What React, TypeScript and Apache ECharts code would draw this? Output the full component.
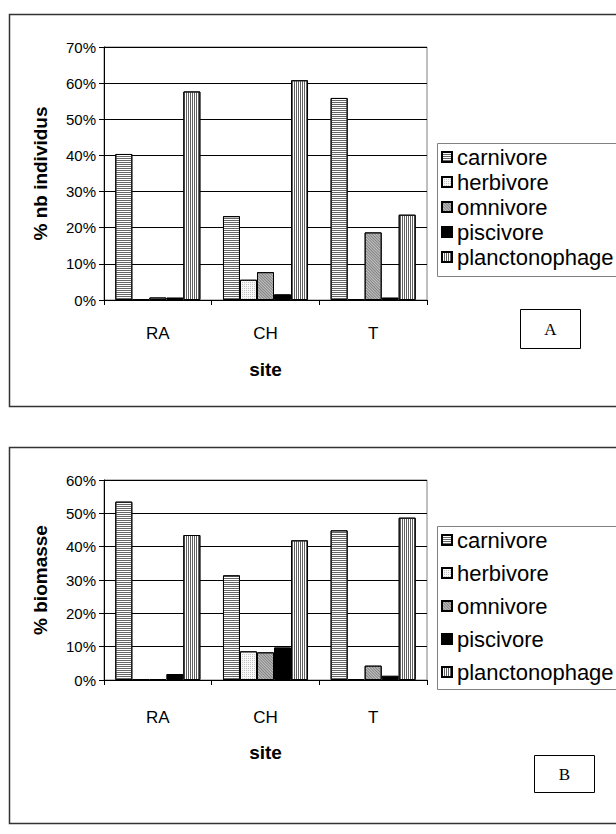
import React, { useEffect, useRef } from "react";
import * as echarts from "echarts";

const sites = ["RA", "CH", "T"];
const groups = ["carnivore", "herbivore", "omnivore", "piscivore", "planctonophage"];

// Panel A: % nb individus
const carnivoreA = [40.4, 23.2, 55.9];
const herbivoreA = [0.2, 5.6, 0.2];
const omnivoreA = [0.7, 7.7, 18.7];
const piscivoreA = [0.7, 1.6, 0.7];
const planctonophageA = [57.7, 60.8, 23.6];

// Panel B: % biomasse
const carnivoreB = [53.5, 31.4, 44.9];
const herbivoreB = [0.2, 8.6, 0.3];
const omnivoreB = [0.2, 8.3, 4.3];
const piscivoreB = [1.8, 9.8, 1.3];
const planctonophageB = [43.5, 41.9, 48.7];

const FONT = "Liberation Sans, Arial, sans-serif";
const TICK_FS = 15;
const CAT_FS = 17;
const LEG_FS = 22;
const TITLE_FS = 19;

const styles: Record<string, any> = {
  carnivore: {
    color: "#ffffff",
    decal: { symbol: "rect", symbolSize: 1, color: "#666666", dashArrayX: [1, 0], dashArrayY: [1, 1], rotation: 0 },
  },
  herbivore: {
    color: "#f7f7f7",
    decal: { symbol: "rect", symbolSize: 1, color: "#c4c4c4", dashArrayX: [1, 1], dashArrayY: [1, 1], rotation: 0 },
  },
  omnivore: {
    color: "#c4c4c4",
    decal: { symbol: "rect", symbolSize: 1, color: "#808080", dashArrayX: [1, 0], dashArrayY: [1, 1], rotation: Math.PI / 4 },
  },
  piscivore: { color: "#000000" },
  planctonophage: {
    color: "#ffffff",
    decal: { symbol: "rect", symbolSize: 1, color: "#606060", dashArrayX: [1, 1], dashArrayY: [1, 0], rotation: 0 },
  },
};

export default function App() {
  const ref = useRef<HTMLDivElement>(null);
  useEffect(() => {
    if (!ref.current) return;
    const chart = echarts.init(ref.current, null, { renderer: "svg" });
    const dataA = [carnivoreA, herbivoreA, omnivoreA, piscivoreA, planctonophageA];
    const dataB = [carnivoreB, herbivoreB, omnivoreB, piscivoreB, planctonophageB];

    const mkSeries = (vals: number[][], idx: number) =>
      groups.map((g, i) => ({
        name: g,
        type: "bar",
        xAxisIndex: idx,
        yAxisIndex: idx,
        data: vals[i],
        barGap: "0%",
        barCategoryGap: "21%",
        itemStyle: { ...styles[g], borderColor: "#000", borderWidth: 1 },
      }));

    const xAxisCommon = {
      type: "category",
      data: sites,
      name: "site",
      nameLocation: "middle",
      nameTextStyle: { fontFamily: FONT, fontSize: TITLE_FS, fontWeight: "bold", color: "#000" },
      axisLine: { lineStyle: { color: "#000", width: 1 } },
      axisTick: { show: true, length: 5, lineStyle: { color: "#000" } },
      axisLabel: { fontFamily: FONT, fontSize: CAT_FS, color: "#000" },
    };

    const yAxisCommon = {
      type: "value",
      min: 0,
      interval: 10,
      nameLocation: "middle",
      nameRotate: 90,
      nameTextStyle: { fontFamily: FONT, fontSize: TITLE_FS, fontWeight: "bold", color: "#000" },
      axisLine: { show: true, lineStyle: { color: "#000", width: 1 } },
      axisTick: { show: true, length: 5, lineStyle: { color: "#000" } },
      axisLabel: { fontFamily: FONT, fontSize: TICK_FS, color: "#000", margin: 8, formatter: "{value}%" },
      splitLine: { show: true, lineStyle: { color: "#000", width: 1 } },
    };

    const legendCommon = {
      orient: "vertical",
      left: 441,
      icon: "rect",
      itemWidth: 10,
      itemHeight: 10,
      textStyle: { fontFamily: FONT, fontSize: LEG_FS, color: "#000" },
      data: groups,
      selectedMode: false,
      padding: 0,
    };

    chart.setOption({
      animation: false,
      aria: { enabled: false },
      grid: [
        { left: 104, top: 47, width: 323, height: 253, show: true, borderColor: "#808080", borderWidth: 1 },
        { left: 104, top: 480, width: 323, height: 200, show: true, borderColor: "#808080", borderWidth: 1 },
      ],
      xAxis: [
        { ...xAxisCommon, gridIndex: 0, nameGap: 59.5, axisLabel: { ...xAxisCommon.axisLabel, margin: 24.5 } },
        { ...xAxisCommon, gridIndex: 1, nameGap: 62.5, axisLabel: { ...xAxisCommon.axisLabel, margin: 28.5 } },
      ],
      yAxis: [
        { ...yAxisCommon, gridIndex: 0, max: 70, name: "% nb individus", nameGap: 54.5 },
        { ...yAxisCommon, gridIndex: 1, max: 60, name: "% biomasse", nameGap: 54.5 },
      ],
      legend: [
        { ...legendCommon, top: 146, itemGap: 3 },
        { ...legendCommon, top: 529, itemGap: 11 },
      ],
      series: [...mkSeries(dataA, 0), ...mkSeries(dataB, 1)],
      graphic: [
        { type: "rect", shape: { x: 9.5, y: 14.5, width: 640, height: 392 }, style: { fill: "none", stroke: "#333", lineWidth: 1.5 }, silent: true },
        { type: "rect", shape: { x: 9.5, y: 447.5, width: 640, height: 376 }, style: { fill: "none", stroke: "#333", lineWidth: 1.5 }, silent: true },
        { type: "rect", shape: { x: 437.5, y: 143.5, width: 220, height: 133 }, style: { fill: "none", stroke: "#808080", lineWidth: 1 }, silent: true },
        { type: "rect", shape: { x: 437.5, y: 526.5, width: 220, height: 163 }, style: { fill: "none", stroke: "#808080", lineWidth: 1 }, silent: true },
        { type: "rect", shape: { x: 520.5, y: 309.5, width: 60, height: 39 }, style: { fill: "#fff", stroke: "#000", lineWidth: 1 }, silent: true },
        { type: "text", x: 550.5, y: 329, style: { text: "A", font: "17px 'Liberation Serif', 'Times New Roman', serif", fill: "#000", textAlign: "center", textVerticalAlign: "middle" }, silent: true },
        { type: "rect", shape: { x: 534.5, y: 755.5, width: 60, height: 37 }, style: { fill: "#fff", stroke: "#000", lineWidth: 1 }, silent: true },
        { type: "text", x: 564.5, y: 774, style: { text: "B", font: "17px 'Liberation Serif', 'Times New Roman', serif", fill: "#000", textAlign: "center", textVerticalAlign: "middle" }, silent: true },
      ],
    });
    return () => chart.dispose();
  }, []);
  return (
    <div
      ref={ref}
      style={{ position: "absolute", left: 0, top: 0, width: 616, height: 834, background: "#fff" }}
    />
  );
}
